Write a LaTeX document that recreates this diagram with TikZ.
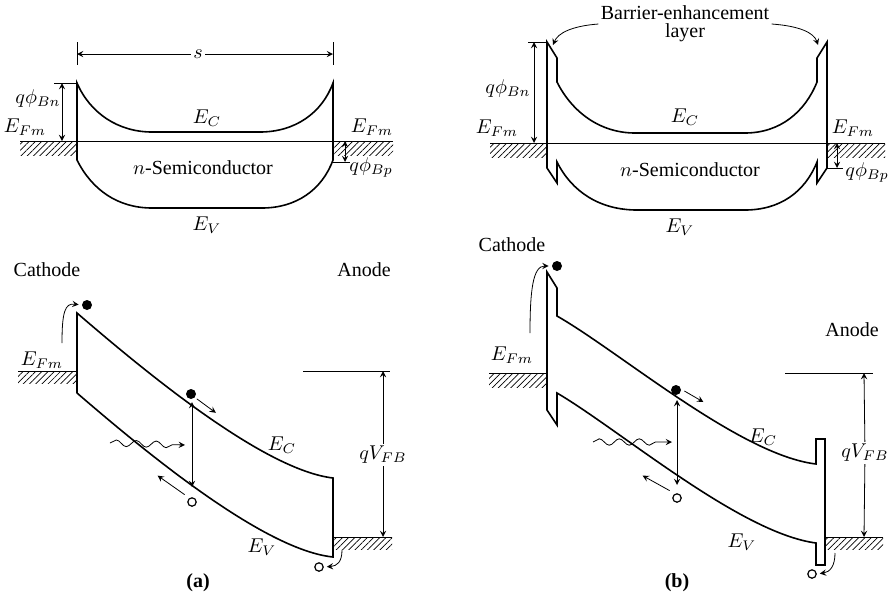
\documentclass[tikz,border=0pt]{standalone}
\usepackage{fontspec}
\setmainfont{Liberation Serif}
\usetikzlibrary{patterns.meta,decorations.pathmorphing}
\begin{document}
\begin{tikzpicture}[>=stealth,x=0.5pt,y=-0.5pt,
    band/.style={line width=0.8pt},
    thin/.style={line width=0.4pt},
    hatch/.style={pattern={Lines[angle=45,distance=2.2pt,line width=0.35pt]}},
    elec/.style={circle,fill=black,inner sep=0pt,minimum size=5pt},
    hole/.style={circle,draw,line width=0.6pt,inner sep=0pt,minimum size=4.2pt},
    lbl/.style={font=\fontsize{10}{12}\selectfont,inner sep=1pt},
    wave/.style={thin,decorate,decoration={snake,amplitude=1.6pt,segment length=10pt,post length=4pt}}]
    \useasboundingbox (0,0) rectangle (893,600);
    % (a) oben: Gleichgewicht
    \fill[hatch] (20,141) rectangle (77,155);
    \fill[hatch] (333,141) rectangle (393,155);
    \draw[thin] (20,141) -- (393,141);
    \draw[band] (77,160) -- (77,83) .. controls (90,113) and (118,132) .. (152,132) -- (260,132)
        .. controls (295,132) and (322,113) .. (333,83) -- (333,160)
        .. controls (322,190) and (296,208) .. (262,208) -- (152,208)
        .. controls (118,208) and (92,190) .. (77,160);
    % Abstand s
    \draw[thin] (77,42) -- (77,65) (333,42) -- (333,65);
    \coordinate (sL) at (77,54);
    \coordinate (sR) at (333,54);
    \node[lbl] (sA) at (198,54) {$s$};
    \draw[thin,->] (sA) -- (sL);
    \draw[thin,->] (sA) -- (sR);
    % Barrierenhoehen
    \draw[thin] (54,83) -- (77,83);
    \draw[thin,<->] (62,83) -- (62,141);
    \node[lbl,anchor=east] (phiBnA) at (63,98) {$q\phi_{Bn}$};
    \draw[thin] (333,162) -- (350,162);
    \draw[thin,<->] (345,141) -- (345,162);
    \node[lbl,anchor=west] (phiBpA) at (347,167) {$q\phi_{Bp}$};
    \node[lbl] (efA1) at (25,127) {$E_{Fm}$};
    \node[lbl] (efA2) at (372,127) {$E_{Fm}$};
    \node[lbl] (ecA) at (207,118) {$E_C$};
    \node[lbl] (semiA) at (203,168) {$n$-Semiconductor};
    \node[lbl] (evA) at (207,225) {$E_V$};
    \node[lbl] (cathA) at (47,270) {Cathode};
    \node[lbl] (anA) at (364,270) {Anode};
    % (a) unten: Flachband
    \fill[hatch] (18,371) rectangle (77,383);
    \draw[thin] (18,371) -- (77,371);
    \fill[hatch] (334,537) rectangle (392,549);
    \draw[thin] (334,537) -- (392,537);
    \draw[thin] (303,371) -- (390,371);
    \draw[band] (77,393) -- (77,313) .. controls (150,376) and (265,470) .. (333,478) -- (333,557)
        .. controls (265,550) and (150,456) .. (77,393);
    \node[elec] (eA1) at (87,305) {};
    \node[elec] (eA2) at (191,394) {};
    \node[hole] (hA1) at (192,502) {};
    \node[hole] (hA2) at (319,567) {};
    \coordinate (cA) at (192,402);
    \coordinate (vA) at (192,487);
    \draw[thin,<->] (cA) -- (vA);
    \draw[thin,->,shorten >=1.5pt] (62,343) .. controls (62,312) and (65,303) .. (eA1.west);
    \draw[thin,->] (eA2.south east) ++(2,1) -- ++(19,14);
    \draw[thin,->] (hA1.north west) ++(-4,-4) -- ++(-27,-19);
    \draw[thin,->,shorten >=1.5pt] (342,550) .. controls (342,562) and (337,566) .. (hA2.east);
    \draw[wave,->] (110,443) -- (185,445);
    \node[lbl] (efA3) at (42,360) {$E_{Fm}$};
    \node[lbl] (ecA2) at (282,445) {$E_C$};
    \node[lbl] (evA2) at (262,547) {$E_V$};
    \node[lbl] (qvA) at (383,455) {$qV_{FB}$};
    \coordinate (qvAt) at (383,371);
    \coordinate (qvAb) at (383,537);
    \draw[thin,->] (qvA) -- (qvAt);
    \draw[thin,->] (qvA) -- (qvAb);
    \node[lbl,font=\bfseries] (capA) at (198,583) {(a)};
    % (b) oben: mit Barrierenschicht
    \fill[hatch] (490,143) rectangle (547,157);
    \fill[hatch] (827,143) rectangle (885,157);
    \draw[thin] (490,143) -- (885,143);
    \draw[band] (557,82) -- (557,58) -- (547,42) -- (547,168) -- (557,183) -- (557,162)
        .. controls (572,192) and (600,210) .. (637,210) -- (745,210)
        .. controls (780,210) and (805,192) .. (817,162) -- (817,183) -- (827,168) -- (827,42)
        -- (817,58) -- (817,82) .. controls (805,112) and (780,133) .. (745,133) -- (635,133)
        .. controls (600,133) and (572,112) .. (557,82) -- cycle;
    \node[lbl,align=center,font=\fontsize{10}{9}\selectfont] (bel) at (685,24) {Barrier-enhancement\\layer};
    \coordinate (belL) at (553,45);
    \coordinate (belR) at (818,45);
    \draw[thin,->] (bel.west) .. controls (572,26) and (558,33) .. (belL);
    \draw[thin,->] (bel.east) .. controls (800,26) and (814,33) .. (belR);
    \draw[thin] (528,42) -- (547,42);
    \draw[thin,<->] (534,42) -- (534,143);
    \node[lbl,anchor=east] (phiBnB) at (533,88) {$q\phi_{Bn}$};
    \draw[thin] (827,168) -- (843,168);
    \draw[thin,<->] (837,143) -- (837,168);
    \node[lbl,anchor=west] (phiBpB) at (843,172) {$q\phi_{Bp}$};
    \node[lbl] (efB1) at (497,128) {$E_{Fm}$};
    \node[lbl] (efB2) at (853,128) {$E_{Fm}$};
    \node[lbl] (ecB) at (685,117) {$E_C$};
    \node[lbl] (semiB) at (690,170) {$n$-Semiconductor};
    \node[lbl] (evB) at (680,227) {$E_V$};
    \node[lbl] (cathB) at (512,245) {Cathode};
    \node[lbl] (anB) at (852,330) {Anode};
    % (b) unten: Flachband
    \fill[hatch] (489,373) rectangle (547,387);
    \draw[thin] (489,373) -- (547,373);
    \fill[hatch] (825,537) rectangle (883,549);
    \draw[thin] (825,537) -- (883,537);
    \draw[thin] (785,373) -- (873,373);
    \draw[band] (557,316) -- (557,288) -- (547,272) -- (547,410) -- (557,425) -- (557,393)
        .. controls (620,430) and (740,533) .. (816,543) -- (816,565) -- (825,565) -- (825,439)
        -- (816,439) -- (816,464) .. controls (740,455) and (620,352) .. (557,316) -- cycle;
    \node[elec] (eB1) at (557,266) {};
    \node[elec] (eB2) at (676,390) {};
    \node[hole] (hB1) at (677,498) {};
    \node[hole] (hB2) at (812,574) {};
    \coordinate (cB) at (677,400);
    \coordinate (vB) at (677,485);
    \draw[thin,<->] (cB) -- (vB);
    \draw[thin,->,shorten >=1.5pt] (530,333) .. controls (530,290) and (533,266) .. (eB1.west);
    \draw[thin,->] (eB2.east) ++(3,1) -- ++(19,11);
    \draw[thin,->] (hB1.north west) ++(-4,-4) -- ++(-27,-15);
    \draw[thin,->,shorten >=1.5pt] (835,553) .. controls (835,566) and (830,572) .. (hB2.east);
    \draw[wave,->] (593,442) -- (672,442);
    \node[lbl] (efB3) at (512,355) {$E_{Fm}$};
    \node[lbl] (ecB2) at (763,437) {$E_C$};
    \node[lbl] (evB2) at (742,542) {$E_V$};
    \node[lbl] (qvB) at (865,453) {$qV_{FB}$};
    \coordinate (qvBt) at (864,373);
    \coordinate (qvBb) at (864,537);
    \draw[thin,->] (qvB) -- (qvBt);
    \draw[thin,->] (qvB) -- (qvBb);
    \node[lbl,font=\bfseries] (capB) at (677,583) {(b)};
\end{tikzpicture}
\end{document}
